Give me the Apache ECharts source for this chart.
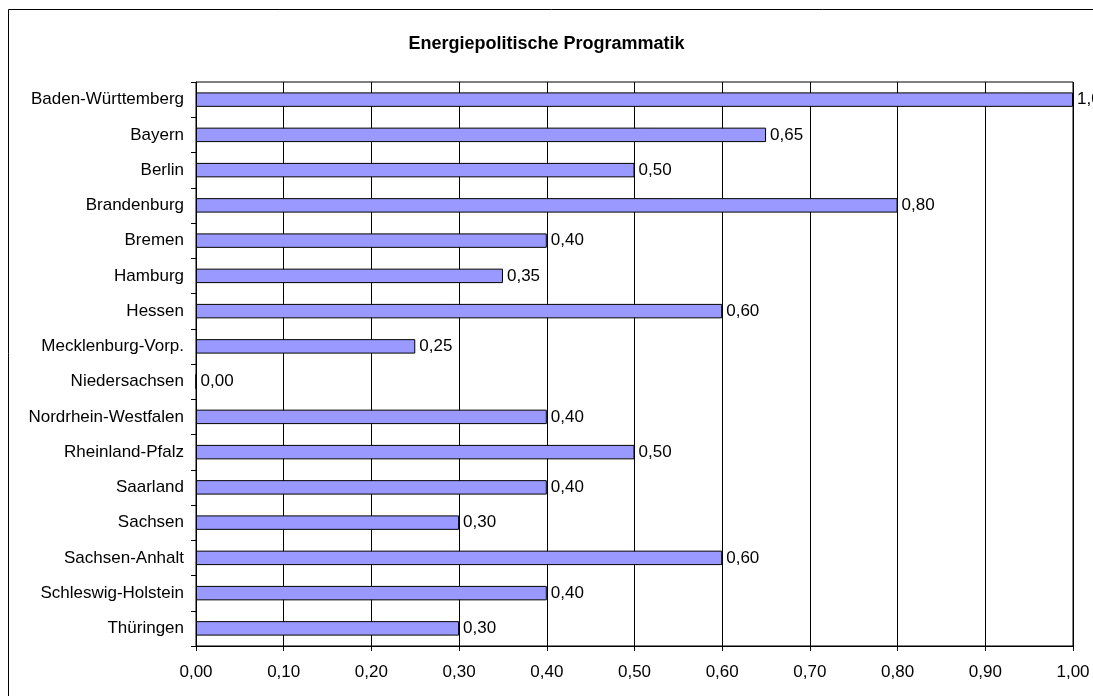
<!DOCTYPE html>
<html><head><meta charset="utf-8">
<script src="https://cdn.jsdelivr.net/npm/echarts@6/dist/echarts.min.js"></script>
<style>html,body{margin:0;padding:0;background:#fff}#c{width:1093px;height:696px}</style>
</head><body><div id="c"></div>
<script>
const categories = ["Baden-Württemberg","Bayern","Berlin","Brandenburg","Bremen","Hamburg","Hessen","Mecklenburg-Vorp.","Niedersachsen","Nordrhein-Westfalen","Rheinland-Pfalz","Saarland","Sachsen","Sachsen-Anhalt","Schleswig-Holstein","Thüringen"];
const values = [1.00,0.65,0.50,0.80,0.40,0.35,0.60,0.25,0.00,0.40,0.50,0.40,0.30,0.60,0.40,0.30];
const titleText = "Energiepolitische Programmatik";
const fmt = v => Number(v).toFixed(2).replace('.', ',');
const chart = echarts.init(document.getElementById('c'), null, {renderer:'canvas'});
const font = 'Liberation Sans, Arial, sans-serif';
chart.setOption({
  animation:false,
  textStyle:{fontFamily:font},
  title:{text:titleText,left:'center',top:30,textStyle:{fontFamily:font,fontSize:18,fontWeight:'bold',color:'#000'}},
  graphic:[{type:'rect',shape:{x:8.5,y:9.5,width:1200,height:800},style:{fill:'none',stroke:'#000',lineWidth:1},silent:true}],
  grid:{left:196,right:20,top:82,bottom:50,show:true,borderColor:'#000',borderWidth:1,containLabel:false},
  xAxis:{type:'value',min:0,max:1,interval:0.1,
    axisLine:{show:true,lineStyle:{color:'#000'}},
    axisTick:{show:true,length:5,lineStyle:{color:'#000'}},
    splitLine:{show:true,lineStyle:{color:'#000',width:1}},
    axisLabel:{formatter:fmt,color:'#000',fontSize:17,margin:18,fontFamily:font}},
  yAxis:{type:'category',data:categories,inverse:true,
    axisLine:{show:true,lineStyle:{color:'#000'}},
    axisTick:{show:true,length:5,lineStyle:{color:'#000'}},
    axisLabel:{color:'#000',fontSize:17,margin:12,fontFamily:font}},
  series:[{type:'bar',data:values,barWidth:'41%',
    itemStyle:{color:'#9999FF',borderColor:'#000',borderWidth:1},
    label:{show:true,position:'right',distance:4,formatter:p=>fmt(p.value),color:'#000',fontSize:17,fontFamily:font}}]
});
</script></body></html>
